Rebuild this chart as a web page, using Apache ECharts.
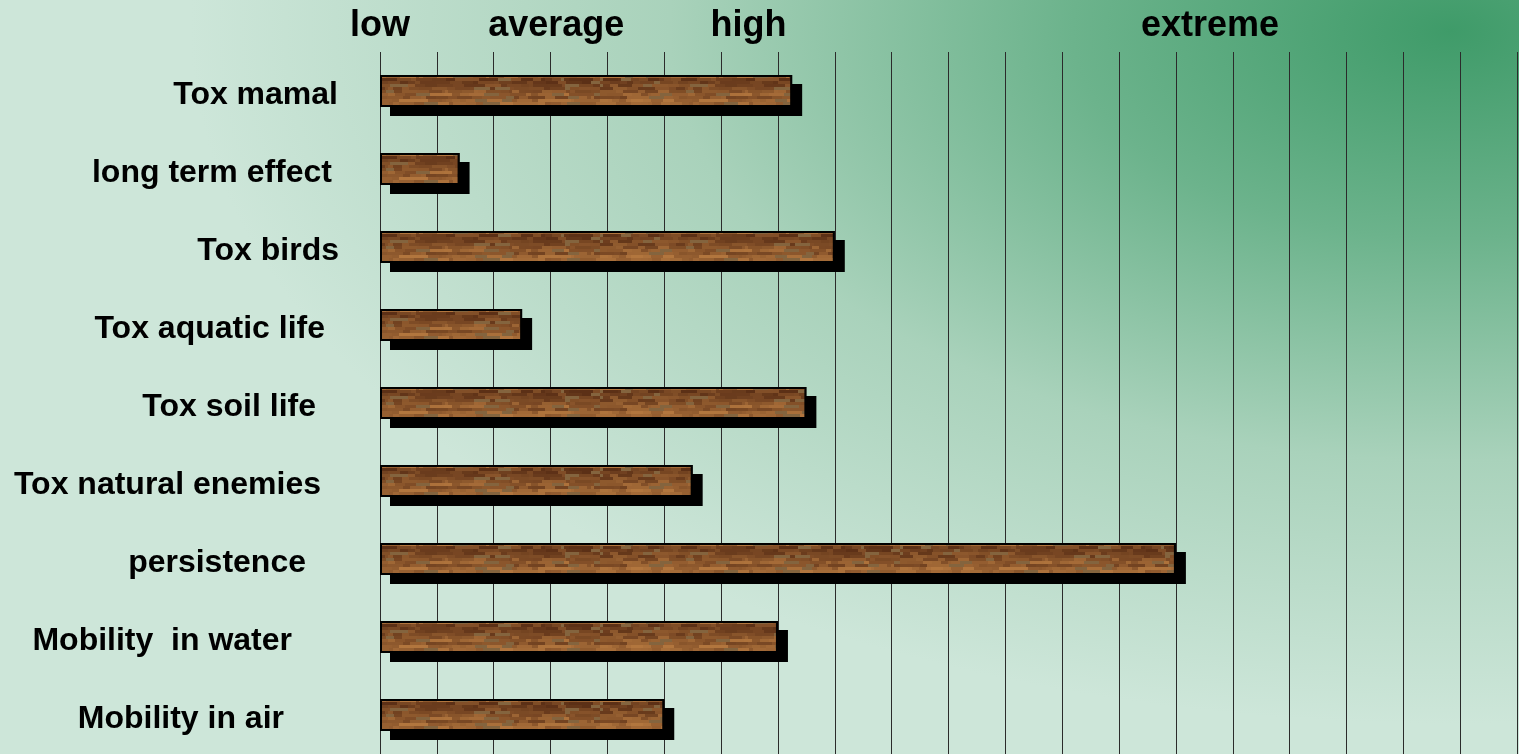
<!DOCTYPE html>
<html>
<head>
<meta charset="utf-8">
<script src="https://cdn.jsdelivr.net/npm/echarts@6/dist/echarts.min.js"></script>
<style>
html,body{margin:0;padding:0;width:100%;height:100%;overflow:hidden;}
#main{width:1519px;height:754px;}
</style>
</head>
<body>
<div id="main"></div>
<script>
// ---- data ----
const categories = ['Tox mamal', 'long term effect', 'Tox birds', 'Tox aquatic life', 'Tox soil life',
  'Tox natural enemies', 'persistence', 'Mobility  in water', 'Mobility in air'];
const values = [7.25, 1.4, 8.0, 2.5, 7.5, 5.5, 14.0, 7.0, 5.0];
const levelLabels = ['low', 'average', 'high', 'extreme'];
const levelPositions = [0, 3.1, 6.48, 14.6];

// ---- style helpers (not data) ----
const labelRightPad = [1, 7, 0, 14, 23, 18, 33, 47, 55];

function hash(i, j) {
  const s = Math.sin(i * 12.9898 + j * 78.233) * 43758.5453;
  return s - Math.floor(s);
}
function woodTexture() {
  const W = 300, H = 78;
  const c = document.createElement('canvas');
  c.width = W; c.height = H;
  const ctx = c.getContext('2d');
  const dark = [92, 48, 22], light = [178, 118, 62];
  for (let y = 0; y < H; y += 3) {
    const r = ((y - 76) % 78 + 78) % 78;
    const t = Math.min(1, Math.max(0, r / 30));
    const rowN = hash(y, 3.7) * 0.3 - 0.15;
    let x = 0, k = 0;
    while (x < W) {
      const w = 3 + Math.floor(hash(k, y * 1.3) * 14);
      const n = hash(k * 2.1, y * 0.7 + 9) * 0.55 - 0.27;
      const m = Math.min(1, Math.max(0, 0.24 + t * 0.55 + rowN + n));
      let col = dark.map((d, q) => Math.round(d + (light[q] - d) * m));
      if (hash(k + 5, y + 11) > 0.9) { col = [132, 100, 62]; }
      ctx.fillStyle = 'rgb(' + col.join(',') + ')';
      ctx.fillRect(x, y, w, 3);
      x += w; k++;
    }
  }
  return c;
}

const labelFont = {
  fontFamily: 'Liberation Sans, Arial, sans-serif',
  fontWeight: 'bold',
  fontSize: 32,
  color: '#000'
};
const richStyles = {};
labelRightPad.forEach((p, i) => {
  richStyles['l' + i] = Object.assign({padding: [8, p, 0, 0]}, labelFont);
});

const chart = echarts.init(document.getElementById('main'), null, {renderer: 'canvas'});
const tex = woodTexture();

const option = {
  animation: false,
  backgroundColor: '#cde6d9',
  graphic: [{
    type: 'rect',
    z: -10,
    silent: true,
    shape: {x: 0, y: 0, width: 1519, height: 1400},
    scaleY: 0.55,
    style: {
      fill: {
        type: 'radial', x: 0.955, y: 0.04, r: 0.9,
        colorStops: [
          {offset: 0, color: '#3f9b69'},
          {offset: 0.3, color: '#6cb38c'},
          {offset: 0.62, color: '#a9d2bb'},
          {offset: 1, color: '#cde6d9'}
        ]
      }
    }
  }],
  grid: {left: 380, right: 2, top: 52, bottom: 0, containLabel: false},
  xAxis: {
    type: 'value',
    position: 'top',
    min: 0, max: 20, interval: 1,
    axisLine: {show: false},
    axisTick: {show: false},
    axisLabel: {
      show: true,
      customValues: levelPositions,
      formatter: function (v) {
        let best = 0;
        levelPositions.forEach((p, i) => { if (Math.abs(p - v) < Math.abs(levelPositions[best] - v)) best = i; });
        return levelLabels[best];
      },
      fontFamily: 'Liberation Sans, Arial, sans-serif',
      fontWeight: 'bold',
      fontSize: 36,
      color: '#000',
      margin: 26,
      verticalAlign: 'middle',
      align: 'center'
    },
    splitLine: {show: true, lineStyle: {color: '#2b2b2b', width: 1}}
  },
  yAxis: {
    type: 'category',
    inverse: true,
    data: categories,
    axisLine: {show: false},
    axisTick: {show: false},
    splitLine: {show: false},
    axisLabel: Object.assign({
      margin: 41,
      formatter: function (v, i) {
        return '{l' + i + '|' + v + '}';
      },
      rich: richStyles
    }, labelFont)
  },
  series: [{
    name: 'shadow',
    type: 'bar',
    data: values,
    barWidth: 32,
    z: 2,
    silent: true,
    itemStyle: {
      color: '#000',
      shadowColor: '#000',
      shadowBlur: 0,
      shadowOffsetX: 10,
      shadowOffsetY: 9
    }
  }, {
    name: 'value',
    type: 'bar',
    data: values,
    barWidth: 32,
    barGap: '-100%',
    z: 3,
    itemStyle: {
      color: {image: tex, repeat: 'repeat'},
      borderColor: '#000',
      borderWidth: 2
    }
  }]
};
chart.setOption(option);
</script>
</body>
</html>
